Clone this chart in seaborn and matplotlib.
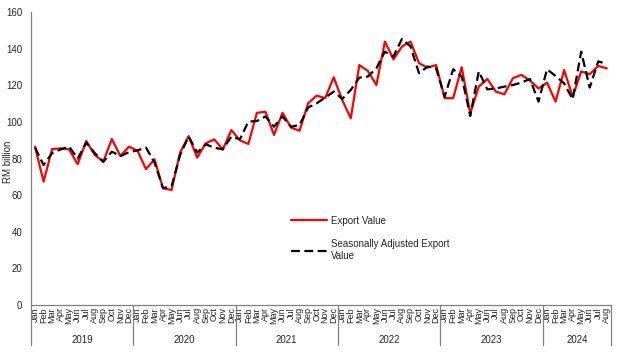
import numpy as np
import pandas as pd
import seaborn as sns
import matplotlib.pyplot as plt
import matplotlib.transforms as mtransforms

sns.set_style("white")
plt.rcParams['font.family'] = ['Liberation Sans', 'DejaVu Sans']

# data (RM billion), Jan 2019 - Aug 2024
years = ['2019', '2020', '2021', '2022', '2023', '2024']
month_names = ['Jan', 'Feb', 'Mar', 'Apr', 'May', 'Jun', 'Jul', 'Aug', 'Sep', 'Oct', 'Nov', 'Dec']
months_per_year = [12, 12, 12, 12, 12, 8]

export_value = [86.5, 67.4, 85.2, 85.6, 85.0, 76.9, 89.6, 82.0, 78.3, 90.7, 81.4, 86.5,
                84.3, 74.3, 79.6, 63.8, 62.8, 83.3, 92.3, 80.5, 88.3, 90.5, 85.0, 95.6,
                90.0, 88.0, 105.0, 105.6, 92.9, 105.0, 96.9, 95.2, 110.2, 114.4, 113.0, 124.4,
                112.0, 102.0, 131.1, 127.9, 120.2, 143.9, 134.2, 141.2, 143.9, 132.1, 129.7, 131.1,
                113.0, 113.0, 129.9, 104.7, 119.3, 123.5, 116.6, 115.1, 123.9, 125.7, 122.6, 118.3,
                121.5, 111.1, 128.4, 113.8, 127.6, 126.1, 130.6, 129.3]

sa_export_value = [86.0, 76.5, 83.0, 85.0, 86.5, 80.0, 88.7, 83.0, 78.3, 83.8, 81.4, 83.5,
                   84.5, 86.0, 77.8, 63.8, 65.0, 82.0, 92.0, 83.3, 87.8, 86.0, 85.0, 92.0,
                   90.5, 100.2, 100.5, 103.0, 97.4, 103.0, 97.4, 98.4, 107.9, 110.2, 113.3, 116.6,
                   112.6, 117.5, 124.2, 124.8, 129.3, 138.4, 135.7, 145.4, 141.2, 126.6, 130.3, 129.3,
                   113.8, 128.8, 124.8, 103.3, 127.6, 117.8, 118.3, 119.3, 120.2, 121.5, 123.5, 111.1,
                   128.8, 125.1, 121.1, 112.4, 138.4, 118.8, 133.1, 131.7]

#month labels for the axis
month_labels = []
for n in months_per_year:
    month_labels += month_names[:n]

df = pd.DataFrame({'idx': np.arange(len(export_value)),
                   'export': export_value,
                   'sa': sa_export_value})

fig = plt.figure(figsize=(6.28, 3.56), dpi=100)
ax = fig.add_axes([0.049, 0.143, 0.924, 0.823])

sns.lineplot(data=df, x='idx', y='export', ax=ax, color='#ff0000', linewidth=1.6,
             label='Export Value')
sns.lineplot(data=df, x='idx', y='sa', ax=ax, color='black', linewidth=1.6,
             dashes=False, label='Seasonally Adjusted Export\nValue')
ax.lines[1].set_dashes([4, 2])

ax.set_xlim(-0.5, len(export_value) - 0.5)
ax.set_ylim(0, 160)
ax.set_yticks(range(0, 161, 20))
ax.tick_params(axis='y', length=0, labelsize=7, pad=6)

#month tick labels
ax.set_xticks(df['idx'])
ax.set_xticklabels(month_labels, rotation=90, fontsize=6.5)
ax.tick_params(axis='x', length=0, pad=1.5)
ax.set_xticks(np.arange(-0.5, len(export_value), 1), minor=True)
ax.tick_params(axis='x', which='minor', length=3, color='#808080', width=0.8)

ax.set_xlabel('')
ax.set_ylabel('')
#y label placed by hand, next to the tick labels
fig.text(0.004, 0.545, 'RM billion', rotation=90, fontsize=7, ha='left', va='center')

for side in ['top', 'right']:
    ax.spines[side].set_visible(False)
for side in ['left', 'bottom']:
    ax.spines[side].set_color('#808080')
    ax.spines[side].set_linewidth(0.9)

#year groups below months
trans = mtransforms.blended_transform_factory(ax.transData, ax.transAxes)
start = -0.5
bounds = [start]
for n in months_per_year:
    bounds.append(bounds[-1] + n)
for b in bounds:
    ax.plot([b, b], [0, -0.135], transform=trans, color='#808080', lw=0.9, clip_on=False)
for i, y in enumerate(years):
    ax.text((bounds[i] + bounds[i + 1]) / 2, -0.12, y, transform=trans,
            ha='center', va='center', fontsize=7)

leg = ax.legend(loc='upper left', bbox_to_anchor=(0.433, 0.335), frameon=False, fontsize=7,
                handlelength=3.7, handletextpad=0.4, labelspacing=1.4)

fig.savefig('out.png', dpi=100)
